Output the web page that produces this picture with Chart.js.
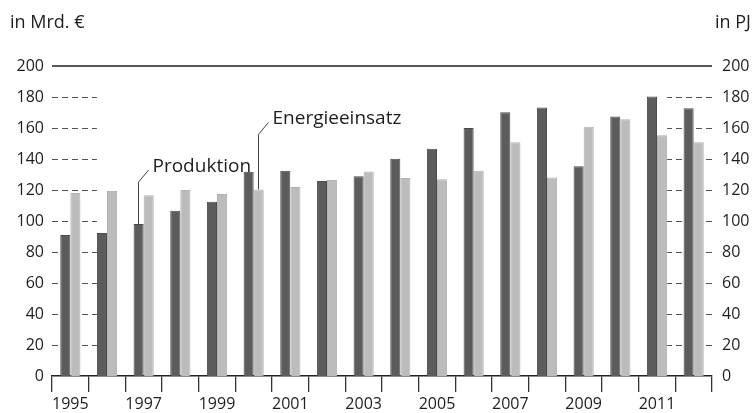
<!DOCTYPE html>
<html lang="de">
<head>
<meta charset="utf-8">
<title>Produktion und Energieeinsatz</title>
<script src="https://cdn.jsdelivr.net/npm/chart.js@4.4.0/dist/chart.umd.min.js"></script>
<style>
  html, body { margin: 0; padding: 0; background: #ffffff; }
  #wrap { position: relative; width: 756px; height: 413px; }
</style>
</head>
<body>
<div id="wrap"><canvas id="chart"></canvas></div>
<script>
// Jahre und Werte
const years = ['1995', '1996', '1997', '1998', '1999', '2000', '2001', '2002', '2003',
               '2004', '2005', '2006', '2007', '2008', '2009', '2010', '2011', '2012'];
// Produktion in Mrd. Euro (linke Achse)
const produktion = [91, 92.3, 98, 106.6, 112.5, 131.8, 132.5, 125.8, 128.8,
                    140.2, 146.6, 160, 170.1, 173.3, 135.3, 167.5, 180.4, 172.7];
// Energieeinsatz in PJ (rechte Achse)
const energieeinsatz = [118, 119.4, 116.6, 120, 117.4, 120.4, 122, 126.5, 132,
                        127.7, 126.9, 132.5, 150.8, 128, 160.8, 165.6, 155.3, 150.8];
const yTicks = [0, 20, 40, 60, 80, 100, 120, 140, 160, 180, 200];

const FONT = '"Open Sans", "DejaVu Sans", sans-serif';
const TEXT = '#1e1e1e';
const DARK = '#5c5c5c';
const LIGHT = '#bcbcbc';

// Hilfslinien nur am Rand, Rahmenlinie oben, Achsentitel und Beschriftungen
const decorations = {
  id: 'decorations',
  beforeDatasetsDraw(chart) {
    const { ctx, chartArea: a } = chart;
    const y = chart.scales.y;
    const prod = chart.getDatasetMeta(0).data;
    const ener = chart.getDatasetMeta(1).data;
    const leftStop = prod[1].x - prod[1].width / 2;
    const rightStart = ener[16].x + ener[16].width / 2;

    ctx.save();
    ctx.strokeStyle = '#555555';
    ctx.lineWidth = 1;
    ctx.setLineDash([6, 4]);
    yTicks.filter(v => v > 0 && v < 200).forEach(v => {
      const py = Math.round(y.getPixelForValue(v)) + 0.5;
      ctx.beginPath();
      ctx.moveTo(a.left, py);
      ctx.lineTo(leftStop, py);
      ctx.stroke();
      ctx.beginPath();
      ctx.moveTo(a.right, py);
      ctx.lineTo(rightStart, py);
      ctx.stroke();
    });
    ctx.setLineDash([]);
    ctx.strokeStyle = '#222222';
    ctx.lineWidth = 1.6;
    const top = y.getPixelForValue(200);
    ctx.beginPath();
    ctx.moveTo(a.left, top);
    ctx.lineTo(a.right, top);
    ctx.stroke();
    ctx.restore();
  },
  afterDatasetsDraw(chart) {
    const { ctx } = chart;
    const prod = chart.getDatasetMeta(0).data;
    const ener = chart.getDatasetMeta(1).data;

    ctx.save();
    ctx.fillStyle = TEXT;
    ctx.font = '18px ' + FONT;
    ctx.textBaseline = 'middle';
    ctx.textAlign = 'left';
    ctx.fillText('in Mrd. €', 10, 23);
    ctx.fillText('in PJ', 715, 23);

    // Beschriftung mit Hinweislinie: senkrecht vom Balken, dann schräg zum Text
    ctx.strokeStyle = '#444444';
    ctx.lineWidth = 1;
    const label = (bar, text, rise) => {
      const x = Math.round(bar.x) - 0.5;
      const bend = bar.y - rise;
      ctx.beginPath();
      ctx.moveTo(x, bar.y);
      ctx.lineTo(x, bend);
      ctx.lineTo(x + 10, bend - 12);
      ctx.stroke();
      ctx.font = '19px ' + FONT;
      ctx.fillText(text, x + 14, bend - 16);
    };
    label(prod[2], 'Produktion', 42);
    label(ener[5], 'Energieeinsatz', 55);
    ctx.restore();
  }
};

new Chart(document.getElementById('chart'), {
  type: 'bar',
  data: {
    labels: years,
    datasets: [
      {
        label: 'Produktion',
        data: produktion,
        yAxisID: 'y',
        backgroundColor: DARK,
        borderColor: '#4c4c4c',
        borderWidth: 1,
        barPercentage: 1,
        categoryPercentage: 0.55
      },
      {
        label: 'Energieeinsatz',
        data: energieeinsatz,
        yAxisID: 'y1',
        backgroundColor: LIGHT,
        borderColor: '#b2b2b2',
        borderWidth: 1,
        barPercentage: 1,
        categoryPercentage: 0.55
      }
    ]
  },
  options: {
    responsive: true,
    maintainAspectRatio: false,
    animation: false,
    layout: { padding: { top: 66, left: 0, right: 0, bottom: 0 } },
    plugins: {
      legend: { display: false },
      tooltip: { enabled: false }
    },
    scales: {
      x: {
        offset: true,
        grid: {
          offset: true,
          drawOnChartArea: false,
          drawTicks: true,
          tickLength: 16,
          color: '#333333',
          lineWidth: 1.3
        },
        border: { display: true, color: '#222222', width: 1.6 },
        ticks: {
          autoSkip: false,
          maxRotation: 0,
          padding: 3,
          color: TEXT,
          font: { family: FONT, size: 16 },
          callback: (value, index) => (index % 2 === 0 ? years[index] : '')
        },
        afterFit: scale => { scale.height = 37; }
      },
      y: {
        position: 'left',
        min: 0,
        max: 200,
        grid: { display: false, drawTicks: false },
        border: { display: false },
        ticks: {
          stepSize: 20,
          padding: 8,
          color: TEXT,
          font: { family: FONT, size: 16 }
        },
        afterFit: scale => { scale.width = 52; }
      },
      y1: {
        position: 'right',
        min: 0,
        max: 200,
        grid: { display: false, drawTicks: false },
        border: { display: false },
        ticks: {
          stepSize: 20,
          padding: 10,
          color: TEXT,
          font: { family: FONT, size: 16 }
        },
        afterFit: scale => { scale.width = 44; }
      }
    }
  },
  plugins: [decorations]
});
</script>
</body>
</html>
